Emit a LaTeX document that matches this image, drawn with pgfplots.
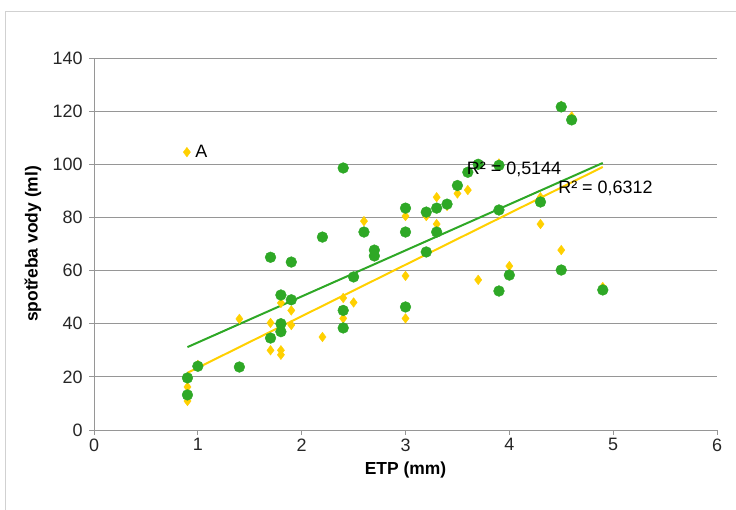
\documentclass[border=0pt]{standalone}
\usepackage{pgfplots}
\pgfplotsset{compat=1.18}
\usepackage{fontspec}
\setmainfont{Liberation Sans}

\definecolor{dotgreen}{RGB}{46,168,38}
\definecolor{dotyellow}{RGB}{255,208,0}
\definecolor{gridgray}{RGB}{150,150,150}

\begin{document}
\begin{tikzpicture}[x=1bp,y=1bp]
\useasboundingbox (0,0) rectangle (736,510);
\draw[black!18, line width=0.8bp] (5,0) -- (5,499) -- (736,499);
\begin{axis}[
    at={(94bp,80bp)}, anchor=south west,
    scale only axis, width=623bp, height=372bp,
    xmin=0, xmax=6, ymin=0, ymax=140,
    xtick={0,1,...,6}, ytick={0,20,...,140},
    axis x line*=bottom, axis y line*=left,
    axis line style={gridgray, line width=0.8bp, -},
    tick style={gridgray, line width=0.8bp},
    tick align=outside, major tick length=5bp,
    ymajorgrids, grid style={gridgray, line width=0.9bp},
    tick label style={font=\fontsize{18}{21}\selectfont, text=black!85},
    yticklabel style={xshift=-3bp},
    /pgf/number format/assume math mode=true,
    xlabel={\bfseries ETP (mm)},
    ylabel={\bfseries spot\v{r}eba vody (ml)},
    label style={font=\fontsize{17.5}{20}\selectfont},
    xlabel style={at={(axis description cs:0.5,-0.1075)}, anchor=center},
    ylabel style={at={(axis description cs:-0.098,0.5)}, anchor=center},
    legend style={draw=none, fill=none, at={(0.143,0.747)}, anchor=west,
        font=\fontsize{18}{21}\selectfont, inner sep=0pt},
    legend cell align=left,
    clip=false,
]
% series A (yellow diamonds)
\addplot[only marks, mark=diamond*, mark size=4.8bp, color=dotyellow] coordinates {
(0.9,10.9)(0.9,16.2)(1.0,24.5)(1.4,41.8)(1.7,40.3)(1.7,30.0)
(1.8,47.8)(1.8,30.0)(1.8,28.3)(1.9,45.0)(1.9,39.5)(2.2,35.0)
(2.4,49.7)(2.4,42.0)(2.5,48.0)(2.6,78.6)(3.0,80.5)(3.0,58.0)
(3.0,42.0)(3.2,80.5)(3.3,87.6)(3.3,77.5)(3.4,84.3)(3.5,89.0)
(3.6,90.3)(3.9,100.3)(3.7,56.5)(4.0,61.7)(4.3,77.5)(4.3,87.6)
(4.5,67.7)(4.5,122.0)(4.6,118.0)(4.9,53.8)};
\addlegendentry{\hspace{3bp}A}
% second series (green circles)
\addplot[only marks, mark=*, mark size=5.4bp, color=dotgreen, forget plot] coordinates {
(0.9,19.6)(0.9,13.2)(1.0,24.0)(1.4,23.7)(1.7,65.0)(1.7,34.6)
(1.8,50.8)(1.8,40.0)(1.8,37.0)(1.9,63.2)(1.9,49.0)(2.2,72.6)
(2.4,98.6)(2.4,45.0)(2.4,38.4)(2.5,57.6)(2.6,74.5)(2.7,67.7)
(2.7,65.5)(3.0,83.5)(3.0,74.5)(3.0,46.3)(3.2,82.0)(3.2,67.0)
(3.3,83.5)(3.3,74.5)(3.4,85.0)(3.5,92.0)(3.6,97.0)(3.7,100.0)
(3.9,99.6)(3.9,82.8)(3.9,52.3)(4.0,58.3)(4.3,85.8)(4.5,121.6)
(4.6,116.7)(4.5,60.2)(4.9,52.7)};
% trend lines
\addplot[dotgreen, line width=2bp, forget plot] coordinates {(0.9,31.2)(4.9,100.5)};
\addplot[dotyellow, line width=2bp, forget plot] coordinates {(0.9,21.5)(4.9,99.0)};
\coordinate (rA) at (axis cs:3.59,97.9);
\coordinate (rB) at (axis cs:4.47,91.0);
\end{axis}
\node[anchor=west, font=\fontsize{18}{21}\selectfont, inner sep=0pt] at (rA) {R² = 0,5144};
\node[anchor=west, font=\fontsize{18}{21}\selectfont, inner sep=0pt] at (rB) {R² = 0,6312};
\end{tikzpicture}
\end{document}
